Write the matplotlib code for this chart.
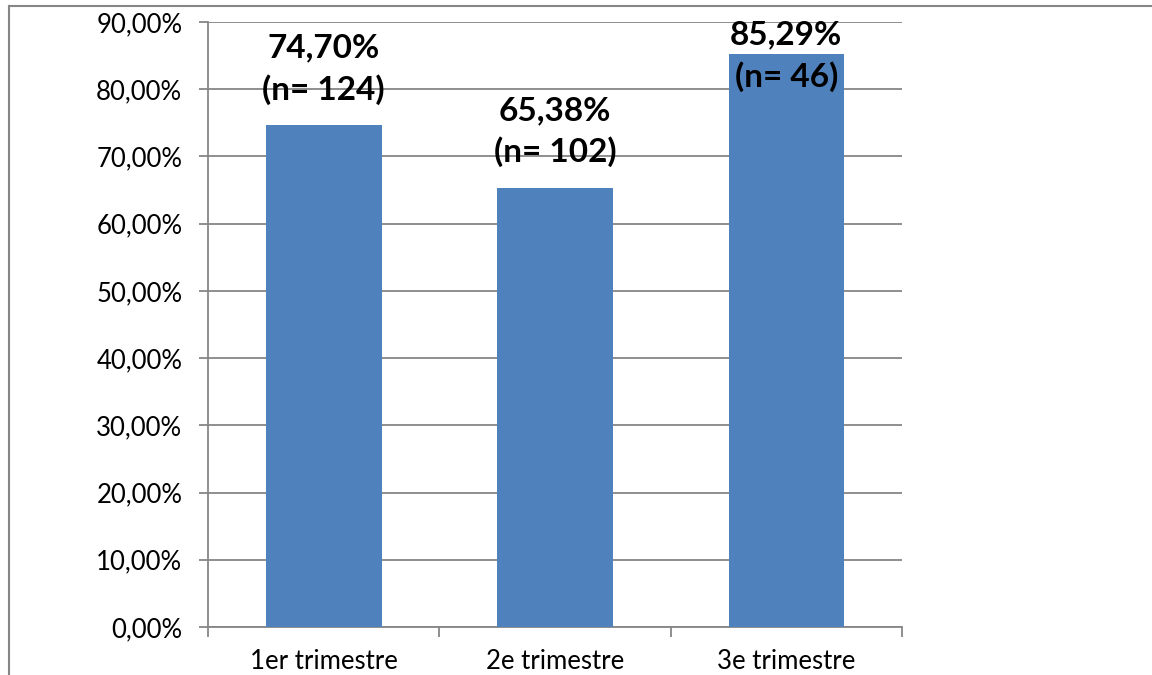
import matplotlib
matplotlib.use("Agg")
import matplotlib.pyplot as plt
from matplotlib.lines import Line2D

# data
categories = ["1er trimestre", "2e trimestre", "3e trimestre"]
percent = [74.70, 65.38, 85.29]
counts = [124, 102, 46]
yticks = list(range(0, 91, 10))

plt.rcParams['font.family'] = ['Lato', 'DejaVu Sans']

fig = plt.figure(figsize=(11.52, 6.75), dpi=100)
ax = fig.add_axes([208 / 1152, 1 - 627 / 675, 694 / 1152, 605 / 675])

grey = "#868686"
xs = list(range(len(categories)))
ax.bar(xs, percent, width=0.5, color="#4F81BD", zorder=3)

ax.set_xlim(-0.5, 2.5)
ax.set_ylim(0, 90)
ax.set_yticks(yticks)
ax.set_yticklabels([f"{t:.2f}%".replace(".", ",") for t in yticks], fontsize=18.5)
ax.yaxis.grid(True, color=grey, linewidth=1.3, zorder=0)
ax.tick_params(axis="y", direction="out", length=6.5, width=1.3, color=grey, pad=12)

# category boundaries carry the tick marks, labels sit at the centres
ax.set_xticks([-0.5, 0.5, 1.5, 2.5])
ax.set_xticklabels([])
ax.set_xticks(xs, minor=True)
ax.set_xticklabels(categories, minor=True, fontsize=18.5)
ax.tick_params(axis="x", which="major", direction="out", length=7, width=1.3, color=grey)
ax.tick_params(axis="x", which="minor", length=0, pad=16)

for side in ["top", "right"]:
    ax.spines[side].set_visible(False)
for side in ["left", "bottom"]:
    ax.spines[side].set_color(grey)
    ax.spines[side].set_linewidth(1.3)

# value labels, kept inside the plot area like the original
for x, v, n in zip(xs, percent, counts):
    y = min(v + 8.3, 84.9)
    ax.text(x, y, f"{v:.2f}%".replace(".", ",") + f"\n(n= {n})",
            ha="center", va="center", fontsize=24, fontweight="bold",
            linespacing=1.45, zorder=4)

# outer border (only top and left visible in the crop)
fig.add_artist(Line2D([8.5 / 1152, 8.5 / 1152], [0, 1 - 6 / 675],
                      color=grey, linewidth=1.5, transform=fig.transFigure))
fig.add_artist(Line2D([8.5 / 1152, 1], [1 - 6 / 675, 1 - 6 / 675],
                      color=grey, linewidth=1.5, transform=fig.transFigure))

fig.savefig("out.png", dpi=100)
